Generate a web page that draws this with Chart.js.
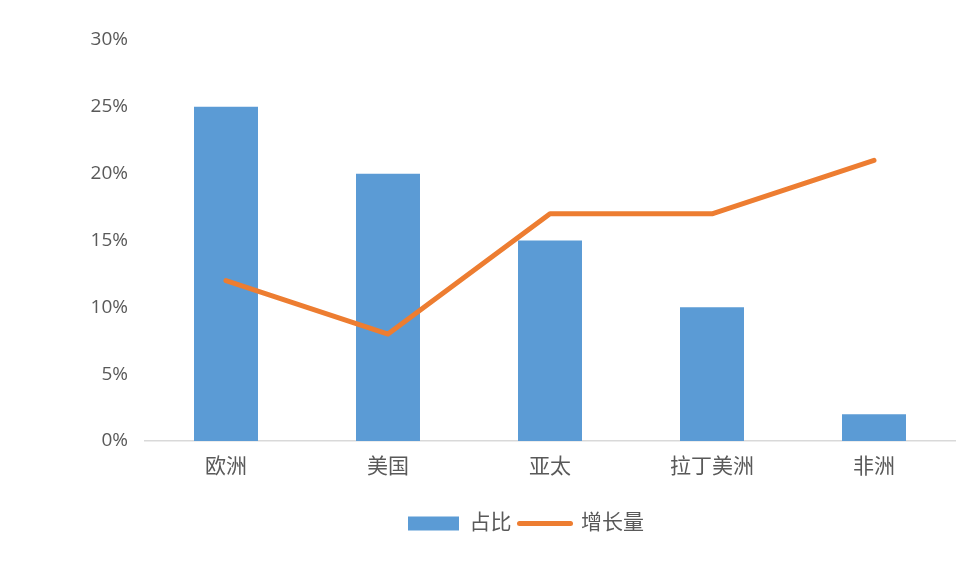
<!DOCTYPE html>
<html>
<head>
<meta charset="utf-8">
<script src="https://cdn.jsdelivr.net/npm/chart.js@4.4.1/dist/chart.umd.min.js"></script>
<style>
  html, body { margin: 0; padding: 0; background: #fff; }
  #wrap { width: 975px; height: 562px; position: relative; }
</style>
</head>
<body>
<div id="wrap"><canvas id="myChart"></canvas></div>
<script>
const regions = ['欧洲', '美国', '亚太', '拉丁美洲', '非洲'];
const share = [25, 20, 15, 10, 2];
const growth = [12, 8, 17, 17, 21];
const seriesNames = ['占比', '增长量'];

const FONT = "'Open Sans', 'Noto Sans CJK SC', sans-serif";
const textColor = '#595959';

// nudge the legend so it sits a bit right of centre, like the original
const legendShift = {
    id: 'legendShift',
    afterLayout(chart) {
        if (chart.legend) chart.legend.left = 97;
    }
};

let ctx = document.getElementById('myChart').getContext('2d');
const config = {
    data: {
        labels: regions,
        datasets: [{
            type: 'bar',
            label: seriesNames[0],
            data: share,
            backgroundColor: '#5B9BD5',
            borderWidth: 0,
            barPercentage: 0.395,
            categoryPercentage: 1,
            order: 2
        }, {
            type: 'line',
            label: seriesNames[1],
            data: growth,
            borderColor: '#ED7D31',
            backgroundColor: '#ED7D31',
            borderWidth: 5,
            borderCapStyle: 'round',
            borderJoinStyle: 'round',
            pointRadius: 0,
            tension: 0,
            fill: false,
            order: 1
        }]
    },
    options: {
        responsive: true,
        maintainAspectRatio: false,
        animation: false,
        layout: { padding: { top: 40, right: 20, left: 0, bottom: 18 } },
        scales: {
            x: {
                grid: { display: false, drawTicks: false },
                border: { color: '#D9D9D9', width: 1.5 },
                ticks: { color: textColor, font: { family: FONT, size: 21 }, padding: 13 },
                afterFit: (s) => { s.height = 64; }
            },
            y: {
                min: 0, max: 30,
                grid: { display: false, drawTicks: false },
                border: { display: false },
                ticks: {
                    stepSize: 5,
                    color: textColor,
                    font: { family: FONT, size: 19 },
                    padding: 17,
                    callback: (v) => v + '%'
                },
                afterFit: (s) => { s.width = 145; }
            }
        },
        plugins: {
            tooltip: { enabled: false },
            legend: {
                position: 'bottom',
                labels: {
                    usePointStyle: true,
                    pointStyleWidth: 51,
                    boxHeight: 14,
                    padding: 8,
                    color: textColor,
                    font: { family: FONT, size: 21 },
                    sort: (a, b) => a.datasetIndex - b.datasetIndex,
                    generateLabels: (chart) => chart.data.datasets.map((d, i) => ({
                        text: d.label,
                        datasetIndex: i,
                        fillStyle: d.type === 'bar' ? d.backgroundColor : d.borderColor,
                        strokeStyle: d.type === 'bar' ? d.backgroundColor : d.borderColor,
                        lineWidth: d.type === 'bar' ? 0 : 5,
                        lineCap: 'round',
                        pointStyle: d.type === 'bar' ? 'rect' : 'line',
                        fontColor: textColor,
                        hidden: false
                    }))
                }
            }
        }
    },
    plugins: [legendShift]
};
let myChart = new Chart(ctx, config);
</script>
</body>
</html>
